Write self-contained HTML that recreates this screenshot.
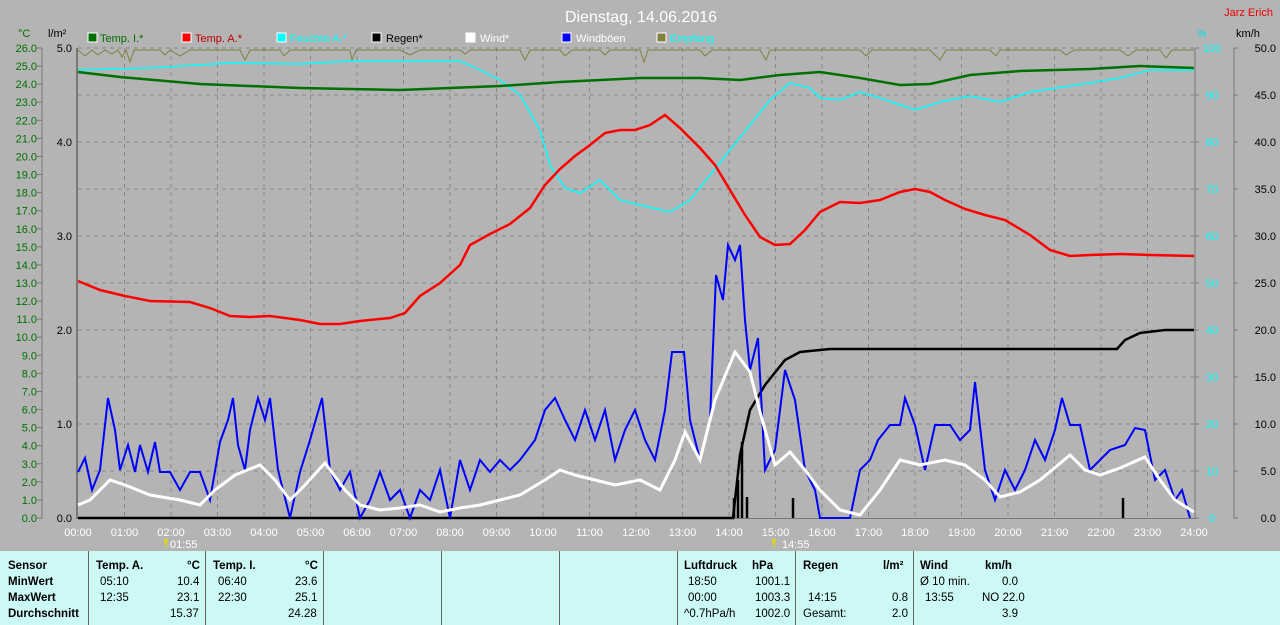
<!DOCTYPE html>
<html><head><meta charset="utf-8"><style>
body{margin:0;width:1280px;height:625px;background:#b4b4b4;font-family:"Liberation Sans",sans-serif;overflow:hidden;position:relative}
svg{position:absolute;left:0;top:0}
.tb{position:absolute;top:551px;height:74px;background:#ccf8f6;font-size:11px;}
.c{position:absolute;top:551px;height:74px;border-left:1px solid #666;}
.t{position:absolute;font-size:11.5px;color:#000;}
.b{font-weight:bold}
</style></head><body>
<svg width="1280" height="625" font-family="Liberation Sans, sans-serif">
<text x="641" y="22" fill="#fff" font-size="16" text-anchor="middle">Dienstag, 14.06.2016</text>
<text x="1273" y="16" fill="#e00" font-size="11" text-anchor="end">Jarz Erich</text>
<text x="18" y="37" fill="#007000" font-size="11">°C</text>
<text x="48" y="37" fill="#000" font-size="11">l/m²</text>
<text x="1197" y="37" fill="#00e0e0" font-size="11">%</text>
<text x="1236" y="37" fill="#000" font-size="11">km/h</text>
<g font-size="11">
<rect x="88" y="33" width="9" height="9" fill="#007000" stroke="#fff"/><text x="100" y="42" fill="#007000">Temp. I.*</text>
<rect x="182" y="33" width="9" height="9" fill="#f00" stroke="#fff"/><text x="195" y="42" fill="#c00000">Temp. A.*</text>
<rect x="277" y="33" width="9" height="9" fill="#0ff" stroke="#fff"/><text x="290" y="42" fill="#0ff">Feuchte A.*</text>
<rect x="372" y="33" width="9" height="9" fill="#000" stroke="#fff"/><text x="386" y="42" fill="#000">Regen*</text>
<rect x="466" y="33" width="9" height="9" fill="#fff" stroke="#fff"/><text x="480" y="42" fill="#fff">Wind*</text>
<rect x="562" y="33" width="9" height="9" fill="#00f" stroke="#fff"/><text x="576" y="42" fill="#fff">Windböen</text>
<rect x="657" y="33" width="9" height="9" fill="#808040" stroke="#fff"/><text x="670" y="42" fill="#0ff">Empfang</text>
</g>
<g stroke="#888" stroke-dasharray="4,4" stroke-width="1" id="grid"></g>
<line x1="77" y1="48" x2="77" y2="519" stroke="#777" stroke-width="2"/>
<line x1="77" y1="518.5" x2="1195" y2="518.5" stroke="#777" stroke-width="1"/>
<line x1="1195" y1="48" x2="1195" y2="519" stroke="#777" stroke-width="1"/>
<line x1="1234" y1="48" x2="1234" y2="519" stroke="#777" stroke-width="1"/>
<line x1="42" y1="48" x2="42" y2="519" stroke="#777" stroke-width="1"/>
<g id="ticks" font-size="11"></g>
<polyline fill="none" stroke="#808040" stroke-width="1" points="78,50 85,56 92,50 98,55 105,50 112,54 118,50 122,57 126,50 130,62 134,50 160,50 165,55 170,50 180,56 190,50 240,50 245,60 250,50 280,50 284,56 290,50 350,50 352,60 356,50 400,50 410,55 420,50 460,50 465,54 470,50 520,50 525,60 530,50 560,50 565,56 572,50 600,50 605,55 610,50 640,50 644,62 648,50 700,50 705,56 712,50 760,50 766,60 770,50 860,50 866,56 872,50 930,50 940,60 946,50 990,50 996,56 1000,50 1060,50 1066,55 1074,50 1120,50 1128,56 1136,50 1160,50 1166,58 1172,50 1194,50"/>
<polyline fill="none" stroke="#0ff" stroke-width="1.5" points="78,70 150,68 230,63 300,64 350,61 460,61 480,70 500,80 520,95 540,130 550,165 565,188 580,193 600,180 620,200 640,205 670,212 690,200 710,175 730,150 750,125 770,100 790,83 810,88 820,98 840,100 860,92 880,98 915,110 940,102 970,96 1000,102 1030,92 1070,86 1120,78 1150,70 1194,70"/>
<polyline fill="none" stroke="#007000" stroke-width="2.5" points="78,72 120,77 200,84 300,88 400,90 500,86 560,82 640,78 700,78 740,80 780,75 820,72 860,78 900,85 930,84 970,75 1020,71 1090,69 1140,66 1194,68"/>
<polyline fill="none" stroke="#f00" stroke-width="2.5" points="78,281 100,290 125,296 150,301 190,302 210,308 230,316 250,317 270,316 300,320 320,324 340,324 360,321 390,318 405,313 420,296 440,283 460,265 470,245 490,234 510,224 530,208 545,185 560,169 575,156 590,145 605,133 620,130 635,130 650,125 665,115 680,128 700,148 715,165 730,190 745,215 760,237 775,245 790,244 805,230 820,212 840,202 860,203 880,200 900,192 915,189 930,192 945,200 965,209 985,215 1005,220 1030,235 1050,250 1070,256 1090,255 1120,254 1150,255 1194,256"/>
<g stroke="#000" stroke-width="2.5"><line x1="734" y1="518" x2="734" y2="498"/><line x1="738" y1="518" x2="738" y2="480"/><line x1="742" y1="518" x2="742" y2="442"/><line x1="747" y1="518" x2="747" y2="497"/><line x1="793" y1="518" x2="793" y2="498"/><line x1="1123" y1="518" x2="1123" y2="498"/></g>
<polyline fill="none" stroke="#000" stroke-width="2.5" points="78,518 733,518 740,455 750,410 765,385 785,360 800,352 830,349 1117,349 1125,340 1140,333 1165,330 1194,330"/>
<polyline fill="none" stroke="#00f" stroke-width="2" points="78,472 85,458 92,490 100,470 108,398 115,430 120,470 128,445 135,472 140,445 148,472 155,442 160,472 170,472 180,490 190,472 200,472 210,500 220,442 228,420 233,398 238,445 245,470 250,430 258,398 265,420 270,398 278,470 290,518 300,472 310,440 322,398 330,470 340,490 350,472 360,518 370,500 380,472 390,500 400,490 410,518 420,490 430,500 440,470 450,518 460,460 470,490 480,460 490,472 500,460 510,470 520,460 535,440 545,410 555,398 565,420 575,440 585,410 595,440 605,410 615,460 625,430 635,410 645,440 655,460 665,410 672,352 684,352 690,420 700,460 710,420 716,275 723,300 728,245 735,260 740,245 745,320 750,370 758,338 765,470 775,450 785,370 795,400 805,470 815,490 820,518 850,518 860,470 870,460 878,440 890,425 900,425 905,398 915,425 925,470 935,425 950,425 960,440 970,430 975,382 985,470 995,500 1005,470 1015,490 1025,470 1035,440 1045,460 1055,430 1062,398 1070,425 1080,425 1090,470 1100,460 1110,450 1125,445 1135,428 1145,430 1155,480 1165,470 1175,500 1182,490 1190,518"/>
<polyline fill="none" stroke="#fff" stroke-width="3" points="78,505 90,500 110,480 125,485 150,495 180,500 200,505 215,490 235,475 260,465 275,480 290,500 305,485 325,463 345,490 360,505 380,510 400,508 420,505 440,512 460,508 480,505 500,500 520,495 545,480 560,470 575,475 595,480 615,485 640,480 660,490 675,460 685,432 700,460 715,400 735,352 750,372 760,412 775,465 790,452 805,470 820,490 840,510 860,515 880,490 900,460 920,465 945,460 965,465 985,480 1000,497 1020,492 1040,480 1070,455 1085,470 1100,475 1120,468 1145,457 1160,480 1175,500 1194,512"/>
<g font-size="11" fill="#fff"><text x="170" y="548">01:55</text><text x="782" y="548">14:55</text></g>
<polygon points="164,539 168,539 166,548" fill="#dd0"/><polygon points="772,539 776,539 774,548" fill="#dd0"/>
</svg>
<div class="tb" style="left:0;width:1280px"></div>
<div class="c" style="left:88px"></div><div class="c" style="left:205px"></div><div class="c" style="left:323px"></div><div class="c" style="left:441px"></div><div class="c" style="left:559px"></div><div class="c" style="left:677px"></div><div class="c" style="left:795px"></div><div class="c" style="left:913px"></div>
<div class="t b" style="left:8px;top:560px">Sensor</div><div class="t b" style="left:8px;top:576px">MinWert</div><div class="t b" style="left:8px;top:592px">MaxWert</div><div class="t b" style="left:8px;top:608px">Durchschnitt</div>
<div class="t b" style="left:96px;top:560px">Temp. A.</div><div class="t b" style="left:187px;top:560px">°C</div>
<div class="t" style="left:100px;top:576px">05:10</div><div class="t" style="left:177px;top:576px">10.4</div>
<div class="t" style="left:100px;top:592px">12:35</div><div class="t" style="left:177px;top:592px">23.1</div>
<div class="t" style="left:170px;top:608px">15.37</div>
<div class="t b" style="left:213px;top:560px">Temp. I.</div><div class="t b" style="left:305px;top:560px">°C</div>
<div class="t" style="left:218px;top:576px">06:40</div><div class="t" style="left:295px;top:576px">23.6</div>
<div class="t" style="left:218px;top:592px">22:30</div><div class="t" style="left:295px;top:592px">25.1</div>
<div class="t" style="left:288px;top:608px">24.28</div>
<div class="t b" style="left:684px;top:560px">Luftdruck</div><div class="t b" style="left:752px;top:560px">hPa</div>
<div class="t" style="left:688px;top:576px">18:50</div><div class="t" style="left:755px;top:576px">1001.1</div>
<div class="t" style="left:688px;top:592px">00:00</div><div class="t" style="left:755px;top:592px">1003.3</div>
<div class="t" style="left:684px;top:608px">^0.7hPa/h</div><div class="t" style="left:755px;top:608px">1002.0</div>
<div class="t b" style="left:803px;top:560px">Regen</div><div class="t b" style="left:883px;top:560px">l/m²</div>
<div class="t" style="left:808px;top:592px">14:15</div><div class="t" style="left:892px;top:592px">0.8</div>
<div class="t" style="left:803px;top:608px">Gesamt:</div><div class="t" style="left:892px;top:608px">2.0</div>
<div class="t b" style="left:920px;top:560px">Wind</div><div class="t b" style="left:985px;top:560px">km/h</div>
<div class="t" style="left:920px;top:576px">Ø 10 min.</div><div class="t" style="left:1002px;top:576px">0.0</div>
<div class="t" style="left:925px;top:592px">13:55</div><div class="t" style="left:982px;top:592px">NO 22.0</div>
<div class="t" style="left:1002px;top:608px">3.9</div>
<script>
var ns="http://www.w3.org/2000/svg",g=document.getElementById('grid'),tk=document.getElementById('ticks');
function L(p,x1,y1,x2,y2,s){var l=document.createElementNS(ns,'line');l.setAttribute('x1',x1);l.setAttribute('y1',y1);l.setAttribute('x2',x2);l.setAttribute('y2',y2);if(s)l.setAttribute('stroke',s);p.appendChild(l);}
function T(x,y,s,c,a){var t=document.createElementNS(ns,'text');t.setAttribute('x',x);t.setAttribute('y',y);t.setAttribute('fill',c);t.setAttribute('text-anchor',a||'end');t.textContent=s;tk.appendChild(t);}
for(var i=1;i<24;i++){var x=78+i*46.5;L(g,x,48,x,518);}
for(var i=0;i<10;i++){var y=48+i*47;L(g,78,y,1194,y);}
for(var v=0;v<=26;v++){var y=518-v*470/26;T(37,y+4,v.toFixed(1),'#007000');L(tk,37,y,42,y,'#777');}
for(var v=0;v<=5;v++){var y=518-v*94;T(72,y+4,v.toFixed(1),'#000');}
for(var v=0;v<=10;v++){var y=518-v*47;T(1212,y+4,''+v*10,'#0ff','middle');T(1276,y+4,(v*5).toFixed(1),'#000');L(tk,1195,y,1199,y,'#777');L(tk,1234,y,1238,y,'#777');}
for(var i=0;i<=24;i++){var x=78+i*46.5;T(x,536,(i<10?'0':'')+i+':00','#fff','middle');}
</script>
</body></html>
